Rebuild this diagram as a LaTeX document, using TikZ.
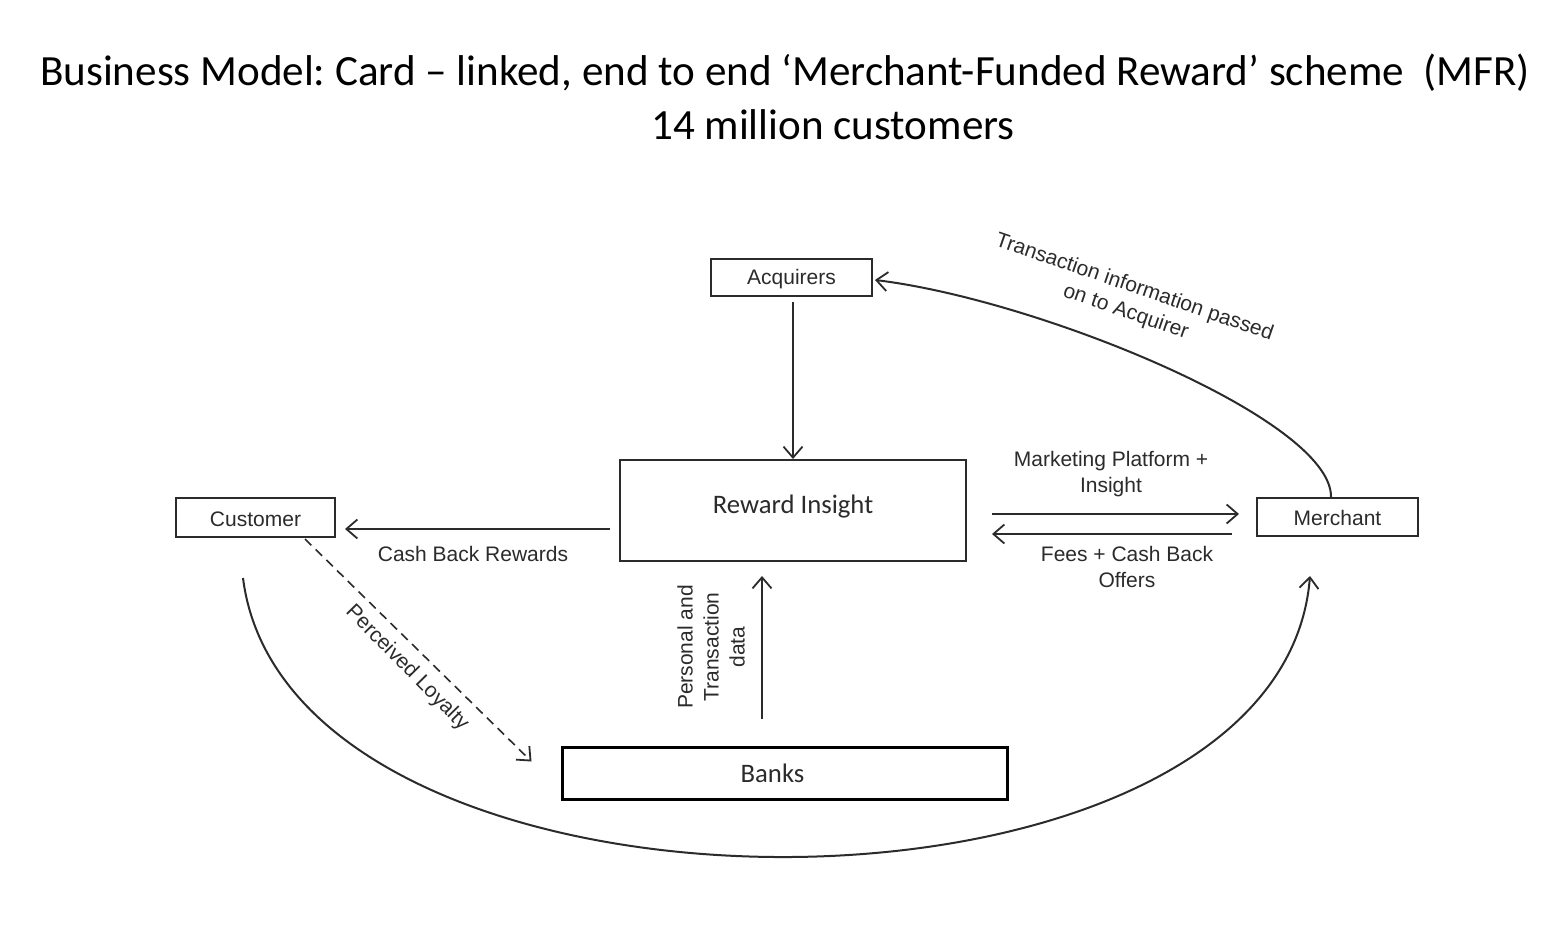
\documentclass[tikz,border=0pt]{standalone}
\usepackage{fontspec}
\setmainfont{Liberation Sans}
\newfontfamily\calfont{Carlito}
\usetikzlibrary{arrows.meta,calc}
\definecolor{ink}{HTML}{2B2B2B}
\begin{document}
\frenchspacing
\begin{tikzpicture}[x=1pt,y=-1pt,
  box/.style={draw=ink,line width=2pt,inner sep=0pt,font=\fontsize{21}{25}\selectfont,text=ink},
  lab/.style={font=\fontsize{21}{26}\selectfont,text=ink,align=center,inner sep=0pt},
  arr/.style={draw=ink,line width=2pt,-{Straight Barb[length=11pt,width=19pt,line width=1.8pt]}}]
\useasboundingbox[fill=white] (0,0) rectangle (1556,952);
% title
\node[font=\calfont\fontsize{43.1}{54}\selectfont,inner sep=0pt] (t1) at (785,73) {Business Model: Card – linked, end to end ‘Merchant-Funded Reward’ scheme~~(MFR)};
\node[font=\calfont\fontsize{43.1}{54}\selectfont,inner sep=0pt] (t2) at (833,125) {14 million customers};
% boxes
\node[box,minimum width=161,minimum height=37,text height=18pt] (acq) at (791.5,277.5) {Acquirers};
\node[box,minimum width=346,minimum height=101,font=\calfont\fontsize{26.7}{30}\selectfont,text depth=12pt] (ri) at (793,510.5) {Reward Insight};
\node[box,minimum width=159,minimum height=39,text height=18pt] (cust) at (255.5,517.5) {Customer};
\node[box,minimum width=161,minimum height=38,text height=18pt] (merch) at (1337.5,517) {Merchant};
\node[box,line width=3pt,draw=black,minimum width=445,minimum height=52,font=\calfont\fontsize{26.7}{30}\selectfont] (banks) at (784.5,773) {\hspace*{-24pt}Banks};
% connectors
\draw[arr] ($(acq.south)+(1.5,5)$) -- (ri.north);
\coordinate (c1) at ($(ri.west)+(-9,18.5)$);
\draw[arr] (c1) -- ($(c1 -| cust.east)+(9,0)$);
\coordinate (c2) at ($(ri.east)+(25,3.5)$);
\draw[arr] (c2) -- ($(c2 -| merch.west)+(-17,0)$);
\coordinate (c3) at ($(merch.west)+(-24,17)$);
\draw[arr] (c3) -- ($(c3 -| ri.east)+(25,0)$);
\coordinate (c4) at ($(banks.north)+(-22.5,-27)$);
\draw[arr] (c4) -- ($(c4 |- ri.south)+(0,14)$);
\draw[arr,dashed,dash pattern=on 9pt off 6pt,line width=1.6pt] ($(cust.south)+(49.5,1)$) -- ($(banks.north west)+(-29,16)$);
\draw[arr] ($(cust.south)+(-12.5,40)$) .. controls (290,950) and (1280,950) .. ($(merch.south)+(-27.5,39)$);
\draw[arr] ($(merch.north)+(-6.5,0)$) .. controls (1332,420) and (1040,300) .. ($(acq.east)+(2,2.5)$);
% labels
\node[lab] (l1) at (473,554) {Cash Back Rewards};
\node[lab] (l2) at (1111,474) {Marketing Platform +\\Insight};
\node[lab] (l3) at (1127,567) {Fees + Cash Back\\Offers};
\node[lab,rotate=90] (l4) at (711,647) {Personal and\\Transaction\\data};
\node[lab,rotate=-45.5] (l5) at (407,668) {Perceived Loyalty};
\node[lab,rotate=-19] (l6) at (1130,300) {Transaction information passed\\on to Acquirer};
\end{tikzpicture}
\end{document}
